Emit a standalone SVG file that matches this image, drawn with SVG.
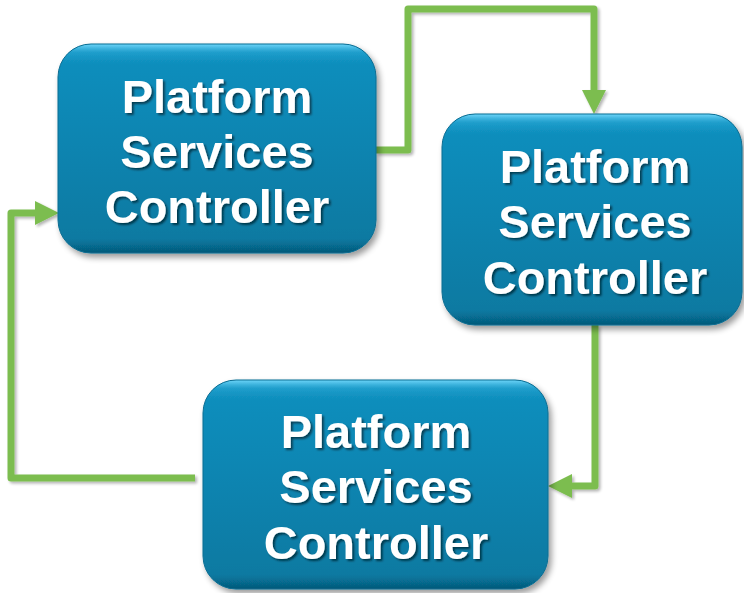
<svg xmlns="http://www.w3.org/2000/svg" width="744" height="593" viewBox="0 0 744 593">
  <defs>
    <linearGradient id="boxFill" x1="0" y1="0" x2="0" y2="1">
      <stop offset="0" stop-color="#0f90bf"/>
      <stop offset="0.5" stop-color="#0b84b0"/>
      <stop offset="1" stop-color="#08789f"/>
    </linearGradient>
    <linearGradient id="rim" x1="0" y1="0" x2="0" y2="1">
      <stop offset="0" stop-color="#6fd6fa"/>
      <stop offset="0.04" stop-color="#2ba9d6" stop-opacity="0.6"/>
      <stop offset="0.1" stop-color="#1699c8" stop-opacity="0"/>
      <stop offset="0.93" stop-color="#055d80" stop-opacity="0"/>
      <stop offset="1" stop-color="#044f6d" stop-opacity="0.8"/>
    </linearGradient>
    <filter id="boxShadow" x="-10%" y="-10%" width="125%" height="130%">
      <feGaussianBlur in="SourceAlpha" stdDeviation="3"/>
      <feOffset dx="3" dy="4" result="b"/>
      <feComponentTransfer><feFuncA type="linear" slope="0.4"/></feComponentTransfer>
      <feMerge><feMergeNode/><feMergeNode in="SourceGraphic"/></feMerge>
    </filter>
    <filter id="lineShadow" x="-10%" y="-10%" width="125%" height="130%">
      <feGaussianBlur in="SourceAlpha" stdDeviation="1.5"/>
      <feOffset dx="2" dy="2" result="b"/>
      <feComponentTransfer><feFuncA type="linear" slope="0.3"/></feComponentTransfer>
      <feMerge><feMergeNode/><feMergeNode in="SourceGraphic"/></feMerge>
    </filter>
    <filter id="textShadow" x="-10%" y="-20%" width="125%" height="150%">
      <feGaussianBlur in="SourceAlpha" stdDeviation="1"/>
      <feOffset dx="2" dy="2" result="b"/>
      <feComponentTransfer><feFuncA type="linear" slope="0.55"/></feComponentTransfer>
      <feMerge><feMergeNode/><feMergeNode in="SourceGraphic"/></feMerge>
    </filter>
  </defs>
  <style>
    .box { fill: url(#boxFill); }
    .rim { fill: url(#rim); stroke: #0a6d92; stroke-width: 1; }
    .label { font-family: "Liberation Sans", Arial, sans-serif; font-weight: bold; font-size: 47px; fill: #ffffff; text-anchor: middle; }
    .conn { fill: none; stroke: #7bbd4f; stroke-width: 7; stroke-linejoin: round; }
    .head { fill: #7bbd4f; }
  </style>
  <rect width="744" height="593" fill="#ffffff"/>

  <g id="connectors" filter="url(#lineShadow)">
    <path class="conn" d="M376,150 H408 V9 H594 V90" />
    <path class="head" d="M582,90 L606,90 L594,114 Z"/>
    <path class="conn" d="M595,325 V486 H572" />
    <path class="head" d="M572,474 L572,498 L548,486 Z"/>
    <path class="conn" d="M195,478 H11 V213 H35" />
    <path class="head" d="M35,201 L35,225 L59,213 Z"/>
  </g>

  <g id="node1" filter="url(#boxShadow)">
    <rect class="box" x="58" y="44" width="318" height="209" rx="33"/>
    <rect class="rim" x="58" y="44" width="318" height="209" rx="33"/>
    <g filter="url(#textShadow)">
      <text class="label" x="217" y="113">Platform</text>
      <text class="label" x="217" y="168">Services</text>
      <text class="label" x="217" y="223">Controller</text>
    </g>
  </g>

  <g id="node2" filter="url(#boxShadow)">
    <rect class="box" x="442" y="114" width="300" height="211" rx="33"/>
    <rect class="rim" x="442" y="114" width="300" height="211" rx="33"/>
    <g filter="url(#textShadow)">
      <text class="label" x="595" y="183">Platform</text>
      <text class="label" x="595" y="238">Services</text>
      <text class="label" x="595" y="294">Controller</text>
    </g>
  </g>

  <g id="node3" filter="url(#boxShadow)">
    <rect class="box" x="203" y="380" width="345" height="209" rx="33"/>
    <rect class="rim" x="203" y="380" width="345" height="209" rx="33"/>
    <g filter="url(#textShadow)">
      <text class="label" x="376" y="448">Platform</text>
      <text class="label" x="376" y="503">Services</text>
      <text class="label" x="376" y="559">Controller</text>
    </g>
  </g>
</svg>
